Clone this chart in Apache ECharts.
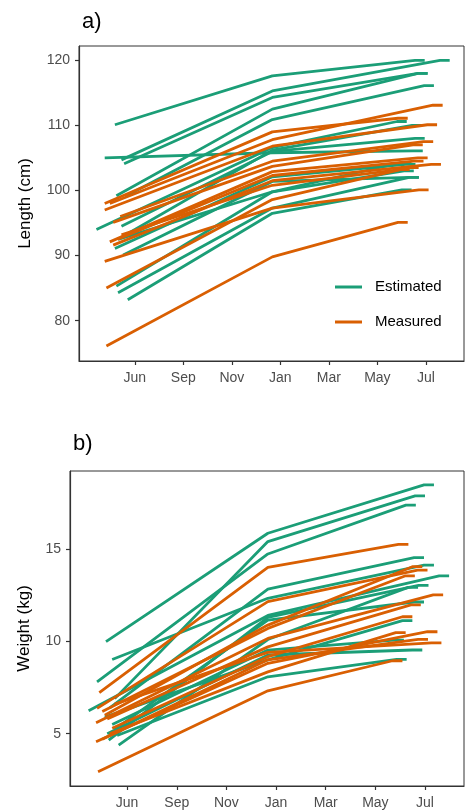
<!DOCTYPE html>
<html>
<head>
	<meta charset="UTF-8">
	<title>Length and weight</title>
	<script type="text/javascript" src="https://cdn.jsdelivr.net/npm/echarts@6/dist/echarts.min.js"></script>
	<style>
		html, body { margin: 0; padding: 0; background: #fff; }
		#chart { width: 465px; height: 811px; }
	</style>
</head>
<body>
	<div id="chart"></div>

	<script type="text/javascript">
		// x axis: months, Jun = 0, two units per label
		var tickVals = [0, 2, 4, 6, 8, 10, 12];
		var tickLabels = ['Jun', 'Sep', 'Nov', 'Jan', 'Mar', 'May', 'Jul'];
		var kneeX = 5.67;   // mid-season measurement
		var tailX = 0.4;    // flat end of each line

		// each row: [start x, start value, mid value, end x, end value]
		var lengthEstimated = [
			[-0.82, 110.1, 117.6, 11.55, 120],
			[-0.55, 104.7, 115.3, 12.58, 120],
			[-0.44, 104.1, 114.3, 11.67, 118],
			[-0.76, 99.2, 112.5, 11.67, 118],
			[-0.35, 99.2, 110.9, 11.93, 116.1],
			[-1.24, 105.0, 105.8, 11.47, 106.1],
			[-1.58, 94.0, 106.6, 10.81, 110.6],
			[-0.28, 93.4, 106.2, 11.43, 110.0],
			[-0.55, 94.5, 106.0, 11.55, 108.0],
			[-0.82, 91.1, 102.1, 11.17, 104.0],
			[-0.48, 90.1, 101.4, 11.31, 102.0],
			[-0.76, 85.3, 99.8, 11.0, 104.3],
			[-0.69, 84.3, 97.3, 11.31, 102.0],
			[-0.29, 83.2, 96.5, 11.01, 100.1],
			[-0.69, 92.5, 99.8, 11.1, 103.0]
		];
		var lengthMeasured = [
			[-1.24, 98.0, 109.0, 10.85, 111.1],
			[-1.03, 98.0, 107.8, 12.29, 113.1],
			[-1.24, 97.0, 106.8, 12.06, 110.1],
			[-0.89, 95.1, 103.7, 11.47, 107.0],
			[-1.03, 92.1, 102.9, 11.67, 105.0],
			[-0.89, 91.6, 101.5, 12.22, 104.0],
			[-0.55, 93.2, 100.8, 10.93, 103.2],
			[-1.24, 89.1, 97.3, 11.71, 100.1],
			[-1.17, 85.0, 98.6, 11.3, 103.5],
			[-1.17, 76.1, 89.8, 10.85, 95.1],
			[-0.7, 92.5, 102.3, 11.5, 104.5],
			[-0.6, 96.0, 104.5, 11.9, 107.5]
		];
		var weightEstimated = [
			[-0.85, 9.98, 15.85, 11.96, 18.47],
			[-0.5, 6.9, 15.4, 11.6, 17.87],
			[-1.21, 7.81, 14.73, 11.23, 17.37],
			[-0.7, 6.4, 12.82, 11.56, 14.53],
			[-0.6, 9.02, 12.33, 11.96, 14.13],
			[-1.55, 6.24, 11.4, 12.57, 13.54],
			[-0.74, 4.65, 11.3, 11.74, 13.03],
			[-0.34, 4.38, 10.1, 11.32, 12.92],
			[-0.5, 5.23, 11.15, 11.56, 12.13],
			[-0.9, 5.9, 9.0, 11.09, 11.12],
			[-0.6, 5.5, 9.53, 10.75, 10.07],
			[-0.8, 5.0, 9.26, 11.49, 9.53],
			[-0.4, 4.9, 8.08, 10.86, 9.02]
		];
		var weightMeasured = [
			[-1.12, 7.22, 14.0, 10.93, 15.25],
			[-1.21, 6.37, 12.15, 11.7, 13.86],
			[-0.9, 6.0, 10.88, 11.49, 14.04],
			[-1.0, 6.2, 10.7, 11.19, 13.54],
			[-1.25, 5.59, 10.16, 12.33, 12.52],
			[-0.8, 5.8, 9.7, 11.43, 11.97],
			[-0.6, 5.3, 9.17, 11.09, 11.33],
			[-1.25, 4.56, 8.81, 12.1, 10.52],
			[-0.7, 5.0, 8.35, 10.82, 10.47],
			[-1.0, 4.7, 9.0, 11.72, 10.11],
			[-0.5, 6.6, 9.4, 12.26, 9.92],
			[-1.17, 2.94, 7.32, 10.69, 8.95]
		];
		var lengthTicks = [80, 90, 100, 110, 120];
		var weightTicks = [5, 10, 15];

		var green = '#1b9e77';
		var orange = '#d95f02';
		var font = 'Liberation Sans, Arial, sans-serif';

		var series = [];
		function addLines(rows, name, color, axis) {
			rows.forEach(function(r) {
				series.push({
					type: 'line',
					name: name,
					xAxisIndex: axis,
					yAxisIndex: axis,
					symbol: 'none',
					silent: true,
					lineStyle: { color: color, width: 2.8 },
					itemStyle: { color: color },
					data: [[r[0], r[1]], [kneeX, r[2]], [r[3], r[4]], [r[3] + tailX, r[4]]]
				});
			});
		}
		addLines(lengthEstimated, 'Estimated', green, 0);
		addLines(lengthMeasured, 'Measured', orange, 0);
		addLines(weightEstimated, 'Estimated', green, 1);
		addLines(weightMeasured, 'Measured', orange, 1);

		function xAxisFor(i, margin) {
			return {
				type: 'value', gridIndex: i, min: -2.3, max: 13.57,
				splitLine: { show: false },
				axisLine: { onZero: false, lineStyle: { color: '#333', width: 1.2 } },
				axisTick: { customValues: tickVals, length: 4, lineStyle: { color: '#333', width: 1.2 } },
				axisLabel: {
					customValues: tickVals, color: '#4d4d4d', fontSize: 14, fontFamily: font, margin: margin,
					formatter: function(v) { return tickLabels[tickVals.indexOf(Math.round(v))]; }
				}
			};
		}
		function yAxisFor(i, min, max, ticks, title, gap) {
			return {
				type: 'value', gridIndex: i, min: min, max: max,
				name: title, nameLocation: 'middle', nameGap: gap,
				nameTextStyle: { color: '#000', fontSize: 17, fontFamily: font },
				splitLine: { show: false },
				axisLine: { show: true, onZero: false, lineStyle: { color: '#333', width: 1.2 } },
				axisTick: { show: true, customValues: ticks, length: 4, lineStyle: { color: '#333', width: 1.2 } },
				axisLabel: { customValues: ticks, color: '#4d4d4d', fontSize: 14, fontFamily: font, margin: 9 }
			};
		}

		var myChart = echarts.init(document.getElementById('chart'));
		myChart.setOption({
			animation: false,
			title: [
				{ text: 'a)', left: 77, top: 6, textStyle: { fontSize: 22, fontWeight: 'normal', color: '#000', fontFamily: font } },
				{ text: 'b)', left: 68, top: 428, textStyle: { fontSize: 22, fontWeight: 'normal', color: '#000', fontFamily: font } }
			],
			legend: {
				data: ['Estimated', 'Measured'],
				orient: 'vertical',
				left: 330, top: 273,
				icon: 'rect', itemWidth: 27, itemHeight: 3, itemGap: 17,
				textStyle: { color: '#000', fontSize: 15, fontFamily: font, lineHeight: 18, padding: [0, 0, 0, 8] }
			},
			grid: [
				{ left: 79, top: 46, right: 1, bottom: 450, show: true, borderColor: '#333', borderWidth: 1 },
				{ left: 70, top: 471, right: 1, bottom: 25, show: true, borderColor: '#333', borderWidth: 1 }
			],
			xAxis: [xAxisFor(0, 10), xAxisFor(1, 10)],
			yAxis: [
				yAxisFor(0, 73.8, 122.2, lengthTicks, 'Length (cm)', 45),
				yAxisFor(1, 2.17, 19.22, weightTicks, 'Weight (kg)', 37)
			],
			series: series
		});
	</script>
</body>
</html>
